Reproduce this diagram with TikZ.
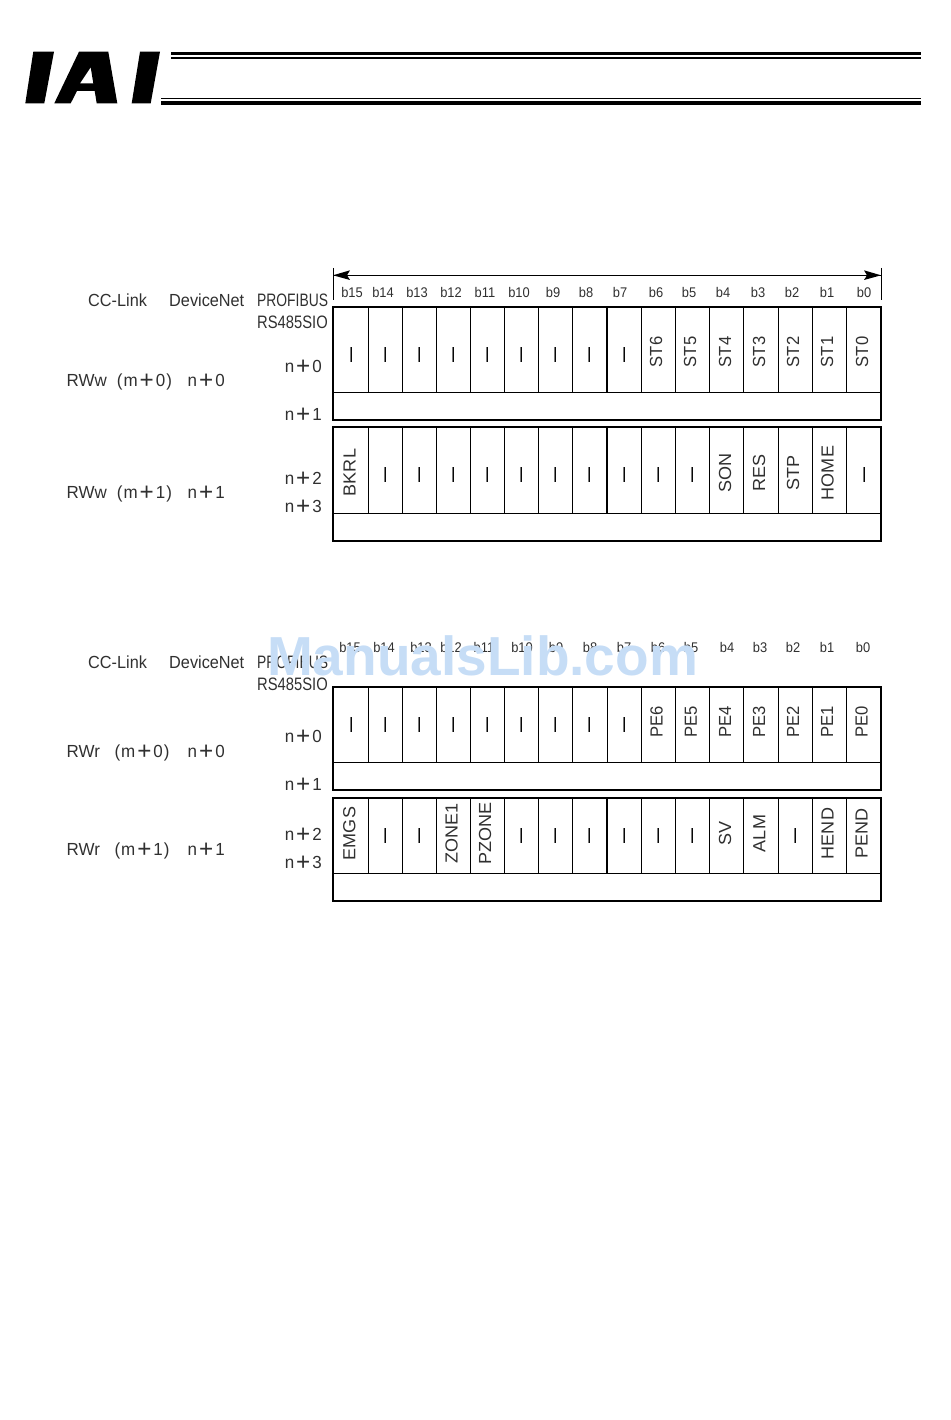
\documentclass[tikz,border=0pt]{standalone}
\usepackage{fontspec}
\setmainfont{Liberation Sans}
\newfontfamily\labf[FakeStretch=0.97]{Liberation Sans}
\newfontfamily\netf[FakeStretch=0.93]{Liberation Sans}
\newfontfamily\capf[FakeStretch=0.77]{Liberation Sans}
\newfontfamily\rsf[FakeStretch=0.82]{Liberation Sans}
\newfontfamily\bitf[FakeStretch=0.92]{Liberation Sans}
\newfontfamily\sigf[FakeStretch=0.95]{Liberation Sans}
\newfontfamily\sigwf[FakeStretch=1.03]{Liberation Sans}
\definecolor{ink}{HTML}{303030}
\definecolor{wm}{HTML}{C6DDF6}
\tikzset{
  frame/.style={draw=black,line width=1.7pt},
  cellrule/.style={draw=black,line width=0.9pt},
  bit/.style={font=\bitf\fontsize{14}{14}\selectfont,text=ink,inner sep=0pt},
  lbl/.style={font=\labf\fontsize{17.5}{17.5}\selectfont,text=ink,inner sep=0pt,anchor=base west},
  netlbl/.style={font=\netf\fontsize{17.5}{17.5}\selectfont,text=ink,inner sep=0pt,anchor=base west},
  caplbl/.style={font=\capf\fontsize{18}{18}\selectfont,text=ink,inner sep=0pt,anchor=base west},
  rslbl/.style={font=\rsf\fontsize{18}{18}\selectfont,text=ink,inner sep=0pt,anchor=base west},
  sig/.style={font=\sigf\fontsize{17.5}{17.5}\selectfont,text=ink,inner sep=0pt,rotate=90},
  sigw/.style={font=\sigwf\fontsize{17.5}{17.5}\selectfont,text=ink,inner sep=0pt,rotate=90},
  bar/.style={font=\bfseries\fontsize{15}{15}\selectfont,text=black,inner sep=0pt,rotate=90},
}
\newcommand{\bigplus}{\kern2pt\raisebox{-2.2pt}[0pt][0pt]{\fontsize{25}{25}\selectfont +}\kern2pt}
% table: top, split, bottom, width of the middle rule
\newcommand{\tablegrid}[4]{%
  \draw[frame] (333,#1) rectangle (881,#3);
  \draw[cellrule] (333,#2) -- (881,#2);
  \foreach \xx in {368.3,402.7,436.7,470.7,504.7,538.7,572.7,641.6,675.4,709.4,743.4,778.2,812.3,846.7}
    \draw[cellrule] (\xx,#1) -- (\xx,#2);
  \draw[line width=#4] (607,#1) -- (607,#2);
}
\newcommand{\bars}[2]{\foreach \xx in {#2} \node[bar] at ([xshift=2pt]\xx,#1-1.5) {—};}
\begin{document}
\begin{tikzpicture}[x=1pt,y=-1pt]
\useasboundingbox (0,0) rectangle (950,1420);
% logo
\fill[black] (33.3,51.7) -- (54,51.7) -- (44.3,103.3) -- (25.3,103.3) -- cycle;
\fill[black,even odd rule] (54.3,103.3) -- (79,51.7) -- (108.3,51.7) -- (117.3,103.3) -- (96.7,103.3) -- (94.7,91) -- (77,91) -- (70.7,103.3) -- cycle
  (90.7,67.3) -- (80,83.3) -- (93.3,83.3) -- cycle;
\fill[black] (140,51.7) -- (160,51.7) -- (150.7,103.3) -- (131.7,103.3) -- cycle;
\fill[black] (171,51.7) rectangle (921,55);
\fill[black] (171,57) rectangle (921,59);
\fill[black] (161,98.2) rectangle (921,99.4);
\fill[black] (161,100.7) rectangle (921,104.7);
% arrow
\coordinate (al) at (333,275.3);
\coordinate (ar) at (881,275.3);
\draw[line width=0.7pt] (333,268) -- (333,300);
\draw[line width=0.7pt] (881,268) -- (881,300);
\draw[line width=0.7pt] (al) -- (ar);
\fill[black] (al) -- (350,270.3) -- (347,275.3) -- (350,280) -- cycle;
\fill[black] (ar) -- (864,270.3) -- (867,275.3) -- (864,280) -- cycle;
% grids
\tablegrid{307}{392.3}{420}{1.5pt}
\tablegrid{427}{513.3}{541}{1.5pt}
\tablegrid{687}{762.3}{790}{0.9pt}
\tablegrid{797.7}{873.3}{900.7}{1.5pt}
% bit headers
\foreach \t/\xx in {b15/352,b14/383,b13/417,b12/451,b11/485,b10/519,b9/553,b8/586,b7/620,b6/656,b5/689,b4/723,b3/758,b2/792,b1/827,b0/864}
  \node[bit] at (\xx,292) {\t};
\foreach \t/\xx in {b15/350,b14/384,b13/421,b12/451,b11/484,b10/522,b9/556,b8/590,b7/624,b6/658,b5/691,b4/727,b3/760,b2/793,b1/827,b0/863}
  \node[bit] at (\xx,647) {\t};
% left labels
\foreach \yy/\yb in {306/328,668/690}{
  \node[netlbl] at (88,\yy) {CC-Link};
  \node[netlbl] at (169,\yy) {DeviceNet};
  \node[caplbl] at (257,\yy) {PROFIBUS};
  \node[rslbl] at (257,\yb) {RS485SIO};
}
\foreach \t/\yy in {0/372,1/420,2/484,3/512,0/742,1/790,2/840.5,3/868}
  \node[lbl,anchor=base east] at (322,\yy) {n\bigplus\t};
\foreach \t/\m/\xm/\yy in {RWw/0/116.7/386.7,RWw/1/116.7/498.5,RWr/0/114.3/757.5,RWr/1/114.3/855}{
  \node[lbl] at (66.5,\yy) {\t};
  \node[lbl] at (\xm,\yy) {(\kern1pt m\bigplus\m\kern1pt)};
  \node[lbl] at (187.5,\yy) {n\bigplus\m};
}
% signals
\foreach \t/\xx in {ST6/656,ST5/690,ST4/725,ST3/759,ST2/793,ST1/827,ST0/862}
  \node[sig] at (\xx,352) {\t};
\bars{356.5}{351,385,419,453,487,521,555,589,624}
\bars{476.5}{385,419,453,487,521,555,589,624,658,692,864}
\node[sigw] at (349.5,472.5) {BKRL};
\foreach \t/\xx in {SON/725,RES/759,STP/793,HOME/827.7}
  \node[sigw] at (\xx,473) {\t};
\foreach \t/\xx in {PE6/656.7,PE5/691,PE4/725,PE3/759,PE2/793,PE1/827,PE0/861.7}
  \node[sig] at (\xx,722) {\t};
\bars{726.5}{351,385,419,453,487,521,555,589,624}
\foreach \t/\xx in {EMGS/349.3,ZONE1/451.7,PZONE/485,SV/725,ALM/759.3,HEND/827.7,PEND/861.7}
  \node[sigw] at (\xx,833.5) {\t};
\bars{837}{385,419,521,555,589,624,658,692,795}
% watermark
\node[font=\bfseries\fontsize{55}{55}\selectfont,text=wm,inner sep=0pt,anchor=base] at (482.5,675) {ManualsLib.com};
\end{tikzpicture}
\end{document}
